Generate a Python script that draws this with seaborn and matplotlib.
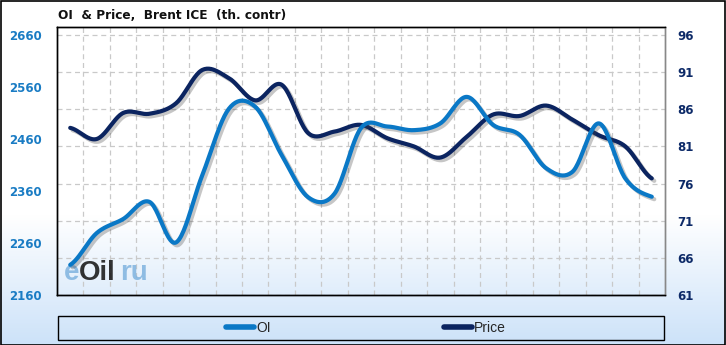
import numpy as np
import pandas as pd
import matplotlib
matplotlib.use("Agg")
import matplotlib.pyplot as plt
import matplotlib.patheffects as pe
from matplotlib.patches import Rectangle
from matplotlib.lines import Line2D
from matplotlib.ticker import FixedLocator, NullFormatter
import seaborn as sns

# ---------------- data ----------------
dates = ["05.03.24", "12.03.24", "19.03.24", "26.03.24", "02.04.24", "09.04.24",
         "16.04.24", "23.04.24", "30.04.24", "07.05.24", "14.05.24", "21.05.24",
         "28.05.24", "04.06.24", "11.06.24", "18.06.24", "25.06.24", "02.07.24",
         "09.07.24", "16.07.24", "23.07.24", "30.07.24", "06.08.24"]
oi = [2218, 2279, 2306, 2339, 2261, 2391, 2518, 2522, 2429, 2348, 2355, 2481,
      2484, 2477, 2490, 2541, 2487, 2468, 2404, 2397, 2490, 2384, 2349]
price = [83.5, 82.0, 85.5, 85.4, 86.8, 91.3, 90.2, 87.2, 89.3, 82.8, 83.0, 83.9,
         82.1, 81.0, 79.5, 82.3, 85.3, 85.1, 86.5, 84.6, 82.5, 81.0, 76.7]
oi_ticks = [2160, 2260, 2360, 2460, 2560, 2660]
price_ticks = [61, 66, 71, 76, 81, 86, 91, 96]
title = "OI  & Price,  Brent ICE  (th. contr)"

OI_COLOR = "#0a78c6"
PRICE_COLOR = "#0b2460"


def smooth(vals, n=24, tension=0.5):
    """Cardinal spline through the points (rendering only)."""
    y = np.asarray(vals, dtype=float)
    x = np.arange(len(y), dtype=float)
    p = np.concatenate([[y[0]], y, [y[-1]]])
    xs, ys = [], []
    for i in range(len(y) - 1):
        p0, p1, p2, p3 = p[i], p[i + 1], p[i + 2], p[i + 3]
        m1 = tension * (p2 - p0)
        m2 = tension * (p3 - p1)
        t = np.linspace(0, 1, n, endpoint=(i == len(y) - 2))
        h00 = 2 * t**3 - 3 * t**2 + 1
        h10 = t**3 - 2 * t**2 + t
        h01 = -2 * t**3 + 3 * t**2
        h11 = t**3 - t**2
        xs.append(x[i] + t)
        ys.append(h00 * p1 + h10 * m1 + h01 * p2 + h11 * m2)
    return np.concatenate(xs), np.concatenate(ys)


sns.set_theme(style="white")
plt.rcParams["font.family"] = ["DejaVu Sans"]

W, H = 726, 345
fig = plt.figure(figsize=(W / 100, H / 100), dpi=100)
fig.patch.set_facecolor("white")

# background gradient
bg = fig.add_axes([0, 0, 1, 1], zorder=-5)
bg.set_axis_off()
g = np.ones((H, 1, 3))
top_c = np.array([1.0, 1.0, 1.0])
bot_c = np.array([0xcc, 0xe2, 0xf9]) / 255
for r in range(H):
    frac = 0.0 if r < 215 else (r - 215) / (H - 215)
    g[r, 0, :] = top_c * (1 - frac) + bot_c * frac
bg.imshow(g, aspect="auto", extent=[0, 1, 0, 1], interpolation="bilinear")
bg.set_xlim(0, 1)
bg.set_ylim(0, 1)

L, R, T, B = 57, 665, 27, 295
ax = fig.add_axes([L / W, 1 - B / H, (R - L) / W, (B - T) / H])
ax.set_facecolor("none")
ax2 = ax.twinx()
ax2.set_facecolor("none")

n = len(dates)
xi = np.arange(n)

shadow = [pe.SimpleLineShadow(offset=(1.8, -1.8), shadow_color="#444444", alpha=0.3),
          pe.Normal()]

# price (primary axis, labels on right)
px, py = smooth(price)
dfp = pd.DataFrame({"x": px, "y": py})
sns.lineplot(data=dfp, x="x", y="y", ax=ax, color=PRICE_COLOR, lw=3.0, sort=False,
             solid_capstyle="round", zorder=3, path_effects=shadow)
# OI (secondary axis, labels on left)
ox, oy = smooth(oi)
dfo = pd.DataFrame({"x": ox, "y": oy})
sns.lineplot(data=dfo, x="x", y="y", ax=ax2, color=OI_COLOR, lw=3.0, sort=False,
             solid_capstyle="round", zorder=3, path_effects=shadow)

# scales: top gridline (96 / 2660) sits 8px below the plot top
pspan = (price_ticks[-1] - price_ticks[0])
gpx = (B - 35)
ax.set_ylim(price_ticks[0], price_ticks[-1] + pspan * (35 - T) / gpx)
ospan = (oi_ticks[-1] - oi_ticks[0])
ax2.set_ylim(oi_ticks[0], oi_ticks[-1] + ospan * (35 - T) / gpx)
ax.set_xlim(-0.5, n - 0.5)

# ticks
ax.yaxis.tick_right()
ax.yaxis.set_label_position("right")
ax2.yaxis.tick_left()
ax2.yaxis.set_label_position("left")
ax.set_yticks(price_ticks)
ax.set_yticklabels([str(v) for v in price_ticks])
ax2.set_yticks(oi_ticks)
ax2.set_yticklabels([str(v) for v in oi_ticks])
ax.set_xticks(xi[::2])
ax.set_xticklabels(dates[::2])
ax.xaxis.set_minor_locator(FixedLocator(xi[:-1] + 0.5))
ax.xaxis.set_minor_formatter(NullFormatter())
ax2.set_xticks([])

for lab in ax.get_yticklabels():
    lab.set_color("#0d2a68")
    lab.set_fontweight("bold")
    lab.set_fontsize(8.5)
for lab in ax2.get_yticklabels():
    lab.set_color("#1a7cc4")
    lab.set_fontweight("bold")
    lab.set_fontsize(8.5)
for lab in ax.get_xticklabels():
    lab.set_fontweight("bold")
    lab.set_fontsize(5.6)
    lab.set_family("Liberation Sans")
    lab.set_color("black")

ax.tick_params(axis="y", which="both", length=0, pad=9)
ax2.tick_params(axis="y", which="both", length=0, pad=11)
ax.tick_params(axis="x", which="both", length=0, pad=4)

# grid
ax.grid(True, axis="y", which="major", color="#c9c9c9", linestyle=(0, (4, 3)), lw=0.9)
ax.grid(True, axis="x", which="minor", color="#c9c9c9", linestyle=(0, (4, 3)), lw=0.9)
ax.grid(False, axis="x", which="major")
ax2.grid(False)
ax.set_axisbelow(True)

ax.set_xlabel("")
ax.set_ylabel("")
ax2.set_xlabel("")
ax2.set_ylabel("")

for a in (ax, ax2):
    for s in ("left", "top", "bottom"):
        a.spines[s].set_color("black")
        a.spines[s].set_linewidth(1.0)
    a.spines["right"].set_color("#888888")
    a.spines["right"].set_linewidth(1.0)

# watermark
wm = dict(transform=ax.transAxes, fontsize=20, fontweight="bold",
          family="Liberation Sans", zorder=2, va="baseline")
ax2.text(0.012, 0.055, "e", color="#7fb3df", alpha=0.85, **wm)
ax2.text(0.036, 0.055, "Oil", color="#111111", alpha=0.85, **wm)
ax2.text(0.104, 0.055, "ru", color="#7fb3df", alpha=0.85, **wm)

# title
fig.text(58 / W, 1 - 15.5 / H, title, fontsize=8.7, fontweight="bold",
         ha="left", va="center", color="#111111")

# legend box
fig.patches.append(Rectangle((58 / W, 1 - 340 / H), (664 - 58) / W, (340 - 316) / H,
                             transform=fig.transFigure, facecolor="none",
                             edgecolor="black", lw=1.0))
handles = [Line2D([], [], color=OI_COLOR, lw=4, solid_capstyle="round"),
           Line2D([], [], color=PRICE_COLOR, lw=4, solid_capstyle="round")]
leg = fig.legend(handles, ["OI", "Price"], loc="center",
                 bbox_to_anchor=(366 / W, 1 - 328 / H), ncol=2, frameon=False,
                 handlelength=2.0, handletextpad=0.15, columnspacing=12.5,
                 prop={"family": "Liberation Sans", "size": 10})

# outer border
fig.patches.append(Rectangle((0.5 / W, 0.5 / H), (W - 1.5) / W, (H - 1.5) / H,
                             transform=fig.transFigure, facecolor="none",
                             edgecolor="black", lw=1.2))

fig.savefig("out.png", dpi=100)
